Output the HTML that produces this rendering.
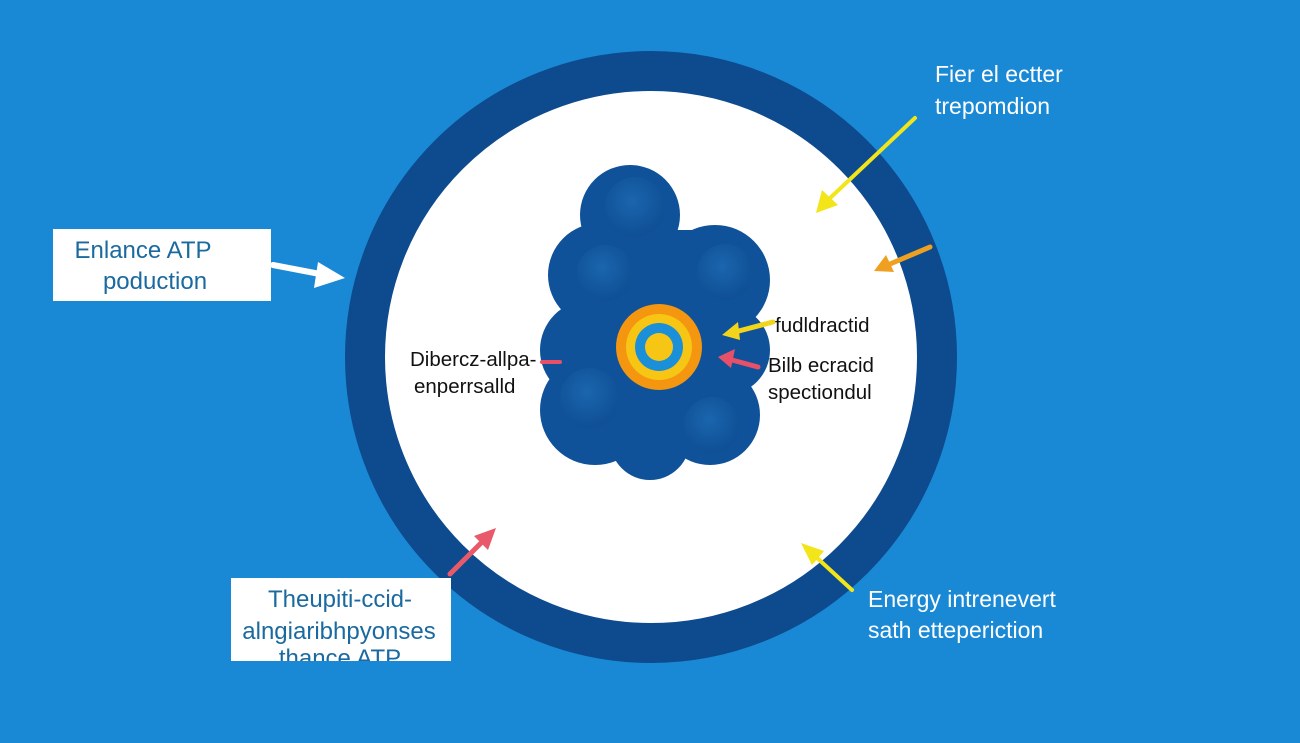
<!DOCTYPE html>
<html><head><meta charset="utf-8"><style>
html,body{margin:0;padding:0;width:1300px;height:743px;overflow:hidden;background:#1b8bd6;}
svg{display:block}
text{font-family:"Liberation Sans",sans-serif;}
</style></head><body>
<svg width="1300" height="743" viewBox="0 0 1300 743">
<defs>
<radialGradient id="sph" cx="45%" cy="40%" r="60%"><stop offset="0" stop-color="#1a66ae"/><stop offset="1" stop-color="#0f4f95"/></radialGradient>
<clipPath id="cb"><rect x="231" y="578" width="220" height="83"/></clipPath>
</defs>
<rect width="1300" height="743" fill="#1a89d5"/>
<circle cx="651" cy="357" r="286" fill="#fff" stroke="#0d4b8e" stroke-width="40"/>
<g fill="#0f5299">
<circle cx="630" cy="215" r="50"/>
<circle cx="600" cy="275" r="52"/>
<circle cx="715" cy="280" r="55"/>
<circle cx="590" cy="350" r="50"/>
<circle cx="725" cy="350" r="45"/>
<circle cx="595" cy="410" r="55"/>
<circle cx="710" cy="415" r="50"/>
<rect x="580" y="230" width="150" height="220" rx="30"/>
<circle cx="650" cy="440" r="40"/>
</g>
<g fill="url(#sph)">
<circle cx="635" cy="207" r="30"/>
<circle cx="605" cy="273" r="28"/>
<circle cx="725" cy="272" r="28"/>
<circle cx="590" cy="398" r="30"/>
<circle cx="712" cy="425" r="28"/>
</g>
<circle cx="659" cy="347" r="43" fill="#f4960f"/>
<circle cx="659" cy="347" r="33" fill="#f7c614"/>
<circle cx="659" cy="347" r="24" fill="#1b8fd8"/>
<circle cx="659" cy="347" r="14" fill="#f7c614"/>
<g stroke-linecap="round">
<line x1="773" y1="322" x2="735" y2="332" stroke="#f2d51a" stroke-width="5"/>
<path d="M722,335 L738,322 L740,340z" fill="#f2d51a"/>
<line x1="758" y1="367" x2="732" y2="360" stroke="#e8506a" stroke-width="5"/>
<path d="M718,357 L735,349 L731,368z" fill="#e8506a"/>
<line x1="542" y1="362" x2="560" y2="362" stroke="#e8506a" stroke-width="4"/>
<line x1="915" y1="118" x2="828" y2="200" stroke="#f2e51a" stroke-width="4"/>
<path d="M816,213 L822,190 L838,205z" fill="#f2e51a"/>
<line x1="930" y1="247" x2="890" y2="264" stroke="#f0a020" stroke-width="5"/>
<path d="M874,271 L886,255 L894,272z" fill="#f0a020"/>
<line x1="273" y1="265" x2="320" y2="274" stroke="#fff" stroke-width="6"/>
<path d="M345,278 L318,262 L314,288z" fill="#fff"/>
<line x1="450" y1="574" x2="482" y2="542" stroke="#e85a6a" stroke-width="5"/>
<path d="M496,528 L474,536 L488,550z" fill="#e85a6a"/>
<line x1="852" y1="590" x2="815" y2="556" stroke="#f2e51a" stroke-width="4"/>
<path d="M801,543 L824,551 L812,565z" fill="#f2e51a"/>
</g>
<rect x="53" y="229" width="218" height="72" fill="#fff"/>
<text x="143" y="258" font-size="24" fill="#1a6aa0" text-anchor="middle">Enlance ATP</text>
<text x="155" y="289" font-size="24" fill="#1a6aa0" text-anchor="middle">poduction</text>
<rect x="231" y="578" width="220" height="83" fill="#fff"/>
<g clip-path="url(#cb)" font-size="24" fill="#1a6aa0" text-anchor="middle">
<text x="340" y="607">Theupiti-ccid-</text>
<text x="339" y="639">alngiaribhpyonses</text>
<text x="340" y="666">thance ATP</text>
</g>
<g font-size="20.5" fill="#111">
<text x="410" y="366">Dibercz-allpa-</text>
<text x="414" y="393">enperrsalld</text>
<text x="775" y="332">fudldractid</text>
<text x="768" y="372">Bilb ecracid</text>
<text x="768" y="399">spectiondul</text>
</g>
<g font-size="23" fill="#fff">
<text x="935" y="82">Fier el ectter</text>
<text x="935" y="114">trepomdion</text>
<text x="868" y="607">Energy intrenevert</text>
<text x="868" y="638">sath ettepericti​on</text>
</g>
</svg>
</body></html>
